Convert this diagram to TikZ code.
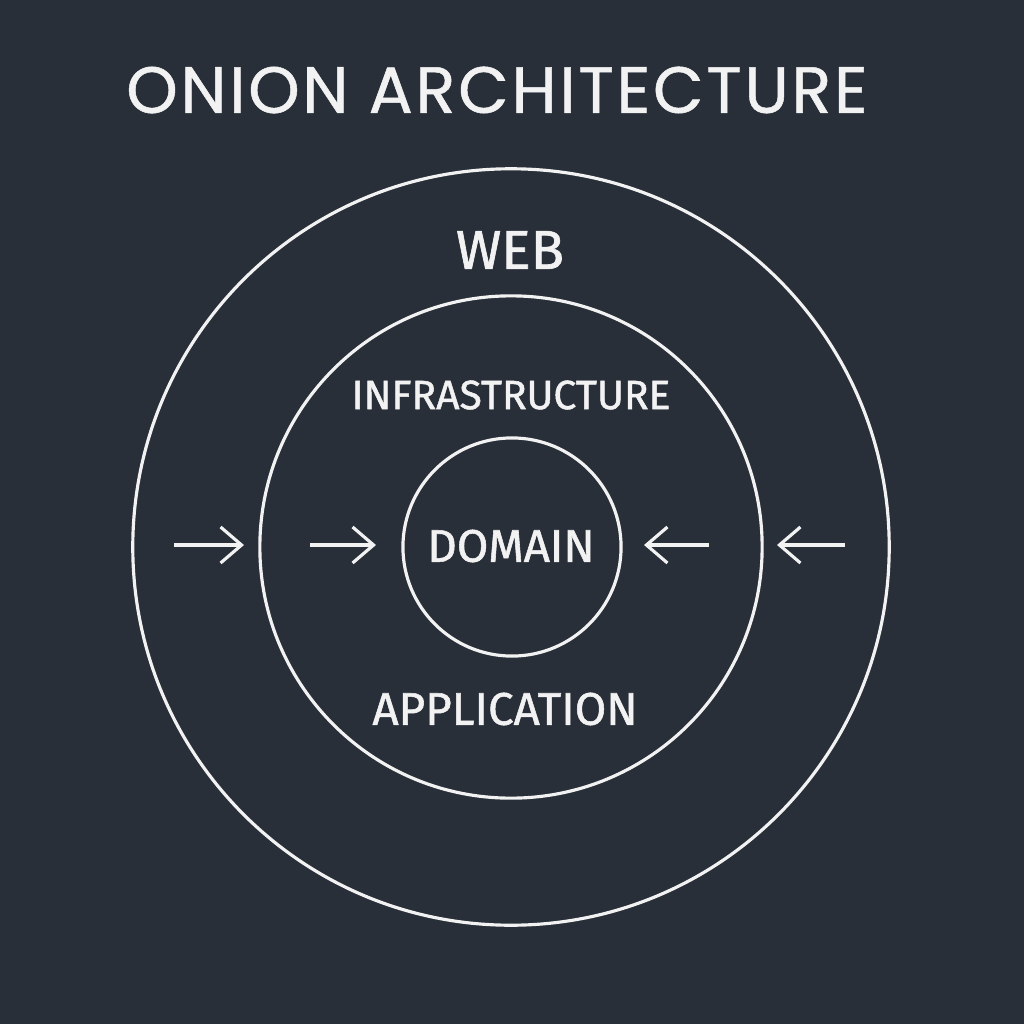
\documentclass[tikz,border=0pt]{standalone}
\usepackage{fontspec}
\setmainfont{Fira Sans}
\newfontfamily\lblfont[FakeBold=1.2]{Fira Sans}
\newfontfamily\titlefont[LetterSpace=4.3,FakeBold=0.8]{Poppins}
\usetikzlibrary{arrows.meta}
\definecolor{bg}{HTML}{282F39}
\definecolor{fg}{HTML}{F2F2F2}
\tikzset{
  ring/.style={circle, draw=fg, line width=0.9pt, inner sep=0pt},
  lbl/.style={text=fg, inner sep=0pt, anchor=center},
  flow/.style={draw=fg, line width=0.9pt, -{Straight Barb[length=0.21cm,width=0.36cm,line width=0.9pt]}}
}
\begin{document}
\begin{tikzpicture}[x=0.01cm,y=-0.01cm]
\fill[bg] (0,0) rectangle (1024,1024);
\useasboundingbox (0,0) rectangle (1024,1024);
\node[lbl, font=\titlefont\fontsize{18.6}{20}\selectfont] (title) at (497,90) {ONION ARCHITECTURE};
\node[ring, minimum size=7.56cm] (outer) at (511,547) {};
\node[ring, minimum size=5.02cm] (middle) at (511,547) {};
\node[ring, minimum size=2.18cm] (inner) at (512,547) {};
\node[lbl, font=\lblfont\fontsize{15.6}{17}\selectfont] (web) at (510,250) {WEB};
\node[lbl, font=\lblfont\fontsize{11.6}{13}\selectfont] (infra) at (511,395) {INFRASTRUCTURE};
\node[lbl, font=\lblfont\fontsize{13}{15}\selectfont] (domain) at (511,546) {DOMAIN};
\node[lbl, font=\lblfont\fontsize{13}{15}\selectfont] (app) at (505,709) {APPLICATION};
\coordinate (a1s) at (174,545); \coordinate (a1e) at (244,545);
\coordinate (a2s) at (310,545); \coordinate (a2e) at (376,545);
\coordinate (a3s) at (709,545); \coordinate (a3e) at (644,545);
\coordinate (a4s) at (845,545); \coordinate (a4e) at (777,545);
\draw[flow] (a1s) -- (a1e);
\draw[flow] (a2s) -- (a2e);
\draw[flow] (a3s) -- (a3e);
\draw[flow] (a4s) -- (a4e);
\end{tikzpicture}
\end{document}
